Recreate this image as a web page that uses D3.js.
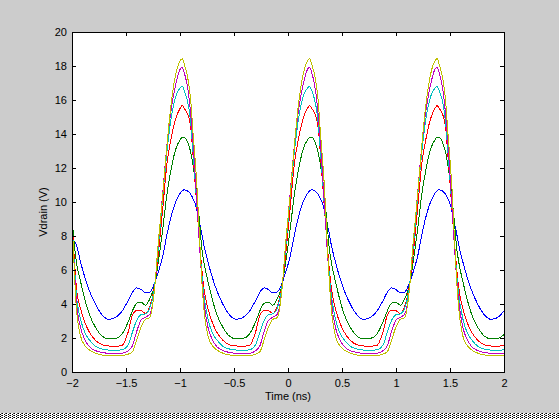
<!DOCTYPE html>
<html>
<head>
<meta charset="utf-8">
<script src="https://cdn.jsdelivr.net/npm/d3@7"></script>
<style>
	body { margin: 0; background: #cccccc; }
	svg { display: block; }
	.tick-label { font-family: "Liberation Sans", Arial, sans-serif; font-size: 11px; fill: black; }
</style>
</head>
<body>
<div id="chart"></div>
<script>
// time samples (ns)
let times = [
	-2.00, -1.98, -1.96, -1.92, -1.88, -1.84, -1.78, -1.72, -1.66, -1.60, -1.54, -1.48, -1.44, -1.40, -1.36, -1.32,
	-1.28, -1.24, -1.20, -1.16, -1.12, -1.08, -1.04, -1.00, -0.98, -0.96, -0.92, -0.90, -0.88, -0.86, -0.84,
	-0.82, -0.80, -0.78, -0.74, -0.70, -0.66, -0.60, -0.54, -0.48, -0.42, -0.36, -0.30, -0.26, -0.22, -0.18, -0.14,
	-0.10, -0.06, -0.02, 0.02, 0.06, 0.10, 0.14, 0.18, 0.20, 0.22, 0.26, 0.28, 0.30, 0.32, 0.34,
	0.36, 0.38, 0.40, 0.44, 0.48, 0.52, 0.58, 0.64, 0.70, 0.76, 0.82, 0.88, 0.92, 0.96, 1.00, 1.04,
	1.08, 1.12, 1.16, 1.20, 1.24, 1.28, 1.32, 1.36, 1.38, 1.40, 1.44, 1.46, 1.48, 1.50, 1.52,
	1.54, 1.56, 1.58, 1.62, 1.66, 1.70, 1.76, 1.82, 1.88, 1.94, 2.00
];

// Vdrain (V) for each curve
let vBlue = [
	8.1, 7.7, 7.5, 6.45, 5.55, 4.8, 3.95, 3.35, 3.1, 3.2, 3.55, 4.2, 4.7, 4.95, 4.85, 4.65,
	4.7, 5.15, 5.9, 6.8, 8.1, 9.2, 10.0, 10.5, 10.65, 10.72, 10.6, 10.45, 10.2, 9.9, 9.4,
	8.8, 8.2, 7.5, 6.45, 5.55, 4.8, 3.95, 3.35, 3.1, 3.2, 3.55, 4.2, 4.7, 4.95, 4.85, 4.65,
	4.7, 5.15, 5.9, 6.8, 8.1, 9.2, 10.0, 10.5, 10.65, 10.72, 10.6, 10.45, 10.2, 9.9, 9.4,
	8.8, 8.2, 7.5, 6.45, 5.55, 4.8, 3.95, 3.35, 3.1, 3.2, 3.55, 4.2, 4.7, 4.95, 4.85, 4.65,
	4.7, 5.15, 5.9, 6.8, 8.1, 9.2, 10.0, 10.5, 10.65, 10.72, 10.6, 10.45, 10.2, 9.9, 9.4,
	8.8, 8.2, 7.5, 6.45, 5.55, 4.8, 3.95, 3.35, 3.1, 3.2, 3.6
];
let vGreen = [
	9.1, 7.6, 6.5, 5.3, 4.25, 3.4, 2.6, 2.1, 1.95, 1.97, 2.2, 2.95, 3.6, 4.05, 4.1, 3.93,
	4.3, 5.0, 6.5, 8.4, 10.5, 12.0, 13.1, 13.65, 13.8, 13.8, 13.35, 12.9, 12.2, 11.3, 10.1,
	8.9, 7.4, 6.5, 5.3, 4.25, 3.4, 2.6, 2.1, 1.95, 1.97, 2.2, 2.95, 3.6, 4.05, 4.1, 3.93,
	4.3, 5.0, 6.5, 8.4, 10.5, 12.0, 13.1, 13.65, 13.8, 13.8, 13.35, 12.9, 12.2, 11.3, 10.1,
	8.9, 7.4, 6.5, 5.3, 4.25, 3.4, 2.6, 2.1, 1.95, 1.97, 2.2, 2.95, 3.6, 4.05, 4.1, 3.93,
	4.3, 5.0, 6.5, 8.4, 10.5, 12.0, 13.1, 13.65, 13.8, 13.8, 13.35, 12.9, 12.2, 11.3, 10.1,
	8.9, 7.4, 6.5, 5.3, 4.25, 3.4, 2.6, 2.1, 1.95, 1.97, 2.2
];
let vRed = [
	8.9, 6.8, 5.0, 3.7, 2.9, 2.35, 1.85, 1.6, 1.53, 1.52, 1.55, 2.35, 3.35, 3.62, 3.6, 3.45,
	3.85, 4.9, 7.0, 9.6, 12.3, 13.8, 14.9, 15.5, 15.67, 15.5, 15.0, 14.35, 12.8, 11.1, 9.4,
	7.7, 6.2, 5.0, 3.7, 2.9, 2.35, 1.85, 1.6, 1.53, 1.52, 1.55, 2.35, 3.35, 3.62, 3.6, 3.45,
	3.85, 4.9, 7.0, 9.6, 12.3, 13.8, 14.9, 15.5, 15.67, 15.5, 15.0, 14.35, 12.8, 11.1, 9.4,
	7.7, 6.2, 5.0, 3.7, 2.9, 2.35, 1.85, 1.6, 1.53, 1.52, 1.55, 2.35, 3.35, 3.62, 3.6, 3.45,
	3.85, 4.9, 7.0, 9.6, 12.3, 13.8, 14.9, 15.5, 15.67, 15.5, 15.0, 14.35, 12.8, 11.1, 9.4,
	7.7, 6.2, 5.0, 3.7, 2.9, 2.35, 1.85, 1.6, 1.53, 1.52, 1.55
];
let vCyan = [
	8.9, 6.5, 4.6, 3.1, 2.3, 1.9, 1.5, 1.35, 1.29, 1.28, 1.3, 1.6, 2.35, 3.05, 3.37, 3.42,
	3.75, 4.8, 7.4, 10.3, 13.0, 15.0, 16.2, 16.7, 16.8, 16.55, 15.6, 14.6, 13.0, 11.3, 9.5,
	7.6, 5.9, 4.6, 3.1, 2.3, 1.9, 1.5, 1.35, 1.29, 1.28, 1.3, 1.6, 2.35, 3.05, 3.37, 3.42,
	3.75, 4.8, 7.4, 10.3, 13.0, 15.0, 16.2, 16.7, 16.8, 16.55, 15.6, 14.6, 13.0, 11.3, 9.5,
	7.6, 5.9, 4.6, 3.1, 2.3, 1.9, 1.5, 1.35, 1.29, 1.28, 1.3, 1.6, 2.35, 3.05, 3.37, 3.42,
	3.75, 4.8, 7.4, 10.3, 13.0, 15.0, 16.2, 16.7, 16.8, 16.55, 15.6, 14.6, 13.0, 11.3, 9.5,
	7.6, 5.9, 4.6, 3.1, 2.3, 1.9, 1.5, 1.35, 1.29, 1.28, 1.3
];
let vMagenta = [
	8.9, 6.3, 4.2, 2.6, 1.9, 1.5, 1.25, 1.15, 1.1, 1.1, 1.1, 1.25, 1.55, 2.4, 3.05, 3.22,
	3.4, 4.6, 7.6, 10.5, 13.4, 15.5, 16.9, 17.8, 17.92, 17.6, 16.3, 15.1, 13.5, 11.6, 9.6,
	7.5, 5.6, 4.2, 2.6, 1.9, 1.5, 1.25, 1.15, 1.1, 1.1, 1.1, 1.25, 1.55, 2.4, 3.05, 3.22,
	3.4, 4.6, 7.6, 10.5, 13.4, 15.5, 16.9, 17.8, 17.92, 17.6, 16.3, 15.1, 13.5, 11.6, 9.6,
	7.5, 5.6, 4.2, 2.6, 1.9, 1.5, 1.25, 1.15, 1.1, 1.1, 1.1, 1.25, 1.55, 2.4, 3.05, 3.22,
	3.4, 4.6, 7.6, 10.5, 13.4, 15.5, 16.9, 17.8, 17.92, 17.6, 16.3, 15.1, 13.5, 11.6, 9.6,
	7.5, 5.6, 4.2, 2.6, 1.9, 1.5, 1.25, 1.15, 1.1, 1.1, 1.1
];
let vYellow = [
	9.0, 6.2, 3.8, 2.1, 1.55, 1.3, 1.1, 1.0, 0.97, 0.96, 0.97, 1.05, 1.2, 1.9, 2.65, 3.1,
	3.2, 4.6, 7.7, 10.4, 13.4, 15.9, 17.5, 18.3, 18.43, 18.1, 17.0, 15.9, 14.1, 12.5, 10.6,
	8.0, 5.6, 3.8, 2.1, 1.55, 1.3, 1.1, 1.0, 0.97, 0.96, 0.97, 1.05, 1.2, 1.9, 2.65, 3.1,
	3.2, 4.6, 7.7, 10.4, 13.4, 15.9, 17.5, 18.3, 18.43, 18.1, 17.0, 15.9, 14.1, 12.5, 10.6,
	8.0, 5.6, 3.8, 2.1, 1.55, 1.3, 1.1, 1.0, 0.97, 0.96, 0.97, 1.05, 1.2, 1.9, 2.65, 3.1,
	3.2, 4.6, 7.7, 10.4, 13.4, 15.9, 17.5, 18.3, 18.43, 18.1, 17.0, 15.9, 14.1, 12.5, 10.6,
	8.0, 5.6, 3.8, 2.1, 1.55, 1.3, 1.1, 1.0, 0.97, 0.96, 0.97
];

let seriesValues = [vBlue, vGreen, vRed, vCyan, vMagenta, vYellow];
let seriesColors = ["#0000ff", "#008000", "#ff0000", "#00bfbf", "#bf00bf", "#bfbf00"];

let xTicks = [-2, -1.5, -1, -0.5, 0, 0.5, 1, 1.5, 2];
let yTicks = [0, 2, 4, 6, 8, 10, 12, 14, 16, 18, 20];

let width = 559;
let height = 419;
let margin = { left: 72, right: 55, top: 32, bottom: 47 };
let plotW = width - margin.left - margin.right;
let plotH = height - margin.top - margin.bottom;
let tickLen = 4;

function formatTick(d) {
	// matlab style minus sign
	return String(d).replace("-", "\u2212");
}

function drawNoiseStrip(svg) {
	// screen capture junk at the bottom of the figure
	let defs = svg.append("defs");
	let pat = defs.append("pattern")
		.attr("id", "dither")
		.attr("width", 4)
		.attr("height", 2)
		.attr("patternUnits", "userSpaceOnUse");
	pat.append("rect").attr("width", 4).attr("height", 2).attr("fill", "white");
	pat.append("rect").attr("x", 0).attr("y", 0).attr("width", 1).attr("height", 1).attr("fill", "black");
	pat.append("rect").attr("x", 2).attr("y", 1).attr("width", 1).attr("height", 1).attr("fill", "black");
	pat.append("rect").attr("x", 1).attr("y", 1).attr("width", 1).attr("height", 1).attr("fill", "#555");

	svg.append("rect")
		.attr("x", 0)
		.attr("y", 413)
		.attr("width", width)
		.attr("height", 6)
		.attr("fill", "url(#dither)");
}

function drawChart() {
	let svg = d3.select("#chart")
		.append("svg")
		.attr("width", width)
		.attr("height", height);

	svg.append("rect")
		.attr("width", width)
		.attr("height", height)
		.attr("fill", "#cccccc");

	drawNoiseStrip(svg);

	let x = d3.scaleLinear().domain([-2, 2]).range([0, plotW]);
	let y = d3.scaleLinear().domain([0, 20]).range([plotH, 0]);

	let g = svg.append("g")
		.attr("transform", "translate(" + margin.left + "," + margin.top + ")");

	g.append("rect")
		.attr("width", plotW)
		.attr("height", plotH)
		.attr("fill", "white");

	g.append("clipPath")
		.attr("id", "plotClip")
		.append("rect")
		.attr("width", plotW + 1)
		.attr("height", plotH + 1);

	let line = d3.line()
		.x(function(d) { return x(d[0]); })
		.y(function(d) { return y(d[1]); })
		.curve(d3.curveMonotoneX);

	let lines = g.append("g").attr("clip-path", "url(#plotClip)");
	for (let i = 0; i < seriesValues.length; i++) {
		let pts = times.map(function(t, k) { return [t, seriesValues[i][k]]; });
		lines.append("path")
			.datum(pts)
			.attr("d", line)
			.attr("fill", "none")
			.attr("stroke", seriesColors[i])
			.attr("stroke-width", 1)
			.attr("shape-rendering", "crispEdges");
	}

	// axes: ticks inside on all four sides
	let bottomAxis = d3.axisBottom(x).tickValues(xTicks).tickSize(-tickLen).tickPadding(7).tickFormat(formatTick);
	let topAxis = d3.axisTop(x).tickValues(xTicks).tickSize(-tickLen).tickFormat("");
	let leftAxis = d3.axisLeft(y).tickValues(yTicks).tickSize(-tickLen).tickPadding(5).tickFormat(formatTick);
	let rightAxis = d3.axisRight(y).tickValues(yTicks).tickSize(-tickLen).tickFormat("");

	let axes = [
		g.append("g").attr("transform", "translate(0," + plotH + ")").call(bottomAxis),
		g.append("g").call(topAxis),
		g.append("g").call(leftAxis),
		g.append("g").attr("transform", "translate(" + plotW + ",0)").call(rightAxis)
	];
	axes.forEach(function(a) {
		a.select(".domain").remove();
		a.selectAll("line").attr("stroke", "black").attr("shape-rendering", "crispEdges");
		a.selectAll("text").attr("class", "tick-label");
	});

	g.append("rect")
		.attr("width", plotW)
		.attr("height", plotH)
		.attr("fill", "none")
		.attr("stroke", "black")
		.attr("stroke-width", 1)
		.attr("shape-rendering", "crispEdges");

	svg.append("text")
		.attr("class", "tick-label")
		.attr("x", margin.left + plotW / 2)
		.attr("y", 400)
		.attr("text-anchor", "middle")
		.text("Time (ns)");

	svg.append("text")
		.attr("class", "tick-label")
		.attr("transform", "translate(47,212) rotate(-90)")
		.attr("text-anchor", "middle")
		.text("Vdrain (V)");
}

drawChart();
</script>
</body>
</html>
